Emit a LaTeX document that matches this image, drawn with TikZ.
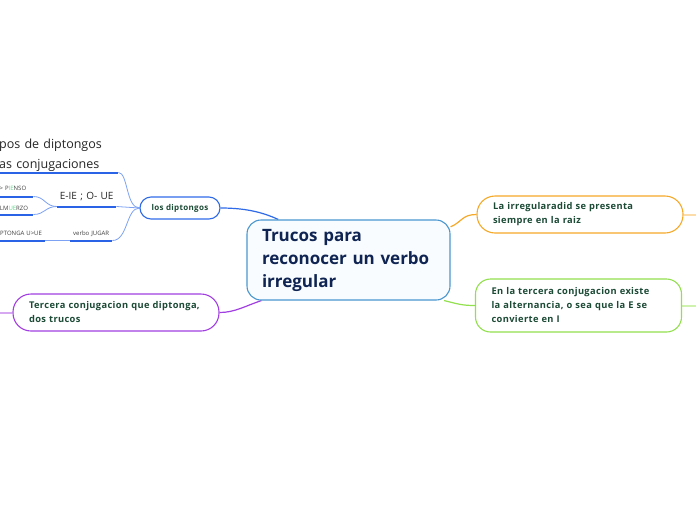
\documentclass[tikz,border=0pt]{standalone}
\usepackage{fontspec}
\setmainfont{Open Sans}
\newfontfamily\subfont[LetterSpace=4]{Open Sans}
\usetikzlibrary{backgrounds}
\definecolor{navy}{HTML}{0F2452}
\definecolor{leafink}{HTML}{1B4A35}
\definecolor{hubblue}{HTML}{2F6BE8}
\definecolor{twigblue}{HTML}{7DA2F4}
\definecolor{lineblue}{HTML}{2A63E6}
\definecolor{mainblue}{HTML}{4A97D0}
\definecolor{mainfill}{HTML}{F8FCFE}
\definecolor{orng}{HTML}{F6A928}
\definecolor{orngpale}{HTML}{FCDCA8}
\definecolor{lime}{HTML}{93E04F}
\definecolor{limepale}{HTML}{CFF2AE}
\definecolor{purp}{HTML}{A23FE2}
\definecolor{purppale}{HTML}{D7A8F2}
\definecolor{mint}{HTML}{5EDC8C}

\begin{document}
\begin{tikzpicture}[x=1pt, y=-1pt,
  main/.style={draw=mainblue, fill=mainfill, line width=1.1pt, rounded corners=14pt,
    text=navy, font=\bfseries\fontsize{17}{23}\selectfont, align=left,
    inner xsep=15pt, minimum height=80pt, text width=173pt},
  sub/.style={fill=white, line width=1.1pt, text=leafink,
    font=\subfont\bfseries\fontsize{9.3}{14}\selectfont, align=left, inner xsep=16pt, text width=174pt},
  leaf/.style={anchor=south west, inner xsep=0pt, inner ysep=0pt, text=black!85},
  uline/.style={draw=lineblue, line width=2pt},
  twig/.style={draw=twigblue, line width=0.8pt},
  link/.style={line width=1.2pt}]
  \useasboundingbox (0,0) rectangle (696,520);
  \clip (0,0) rectangle (696,520);

  % tema central y ramas
  \node[main] (centre) at (348.5,260) {Trucos para\\ reconocer un verbo\\ irregular};
  \node[draw=hubblue, fill=white, line width=1.1pt, rounded corners=11pt, text=leafink,
    font=\subfont\bfseries\fontsize{8}{10}\selectfont, minimum width=80pt, minimum height=22pt,
    inner sep=0pt] (diptongos) at (180,208) {los diptongos};
  \node[sub, draw=orng, rounded corners=18pt, minimum height=37pt] (raiz) at (580,214.5)
    {La irregularadid se presenta\\ siempre en la raiz};
  \node[sub, draw=lime, rounded corners=15pt, minimum height=53pt] (alterna) at (578.5,305.5)
    {En la tercera conjugacion existe\\ la alternancia, o sea que la E se\\ convierte en I};
  \node[sub, draw=purp, rounded corners=18pt, minimum height=37pt] (trucos) at (116,312.5)
    {Tercera conjugacion que diptonga,\\ dos trucos};

  % hojas de los diptongos
  \node[leaf, text width=119pt, align=left, text depth=23.5pt,
    font=\fontsize{12.5}{20}\selectfont] (tipos) at (-1,172.5) {pos de diptongos\\ as conjugaciones};
  \node[leaf, text width=59pt, align=center, text depth=6.5pt,
    font=\fontsize{10}{12}\selectfont] (eie) at (57,206.5) {E-IE ; O- UE};
  \node[leaf, text width=37pt, align=left, text depth=5.5pt, text=black!75,
    font=\fontsize{6}{7}\selectfont] (pienso) at (-4,196.5) {=> P{\color{mint}IE}NSO};
  \node[leaf, text width=37pt, align=left, text depth=4pt, text=black!75,
    font=\fontsize{6}{7}\selectfont] (almuerzo) at (-4,214.5) {ALM{\color{mint}UE}RZO};
  \node[leaf, text width=42pt, align=center, text depth=4.5pt, text=black!75,
    font=\fontsize{6}{7}\selectfont] (jugar) at (70,240.5) {verbo JUGAR};
  \node[leaf, text width=51pt, align=left, text depth=4.5pt, text=black!75,
    font=\fontsize{6}{7}\selectfont] (uue) at (-6,240.5) {DIPTONGA U>UE};
  \foreach \n in {tipos, eie, pienso, almuerzo, jugar, uue}
    \draw[uline] (\n.south west) -- (\n.south east);

  \coordinate (raizend) at (696,214.5);
  \coordinate (alternaend) at (696,305.5);
  \coordinate (trucosend) at (0,312.5);

  \begin{pgfonlayer}{background}
    \fill[white] (0,0) rectangle (696,520);
    \draw[link, hubblue] (centre.150) .. controls (262,212) and (245,208) .. (diptongos.east);
    \draw[link, orng] (centre.18) .. controls (462,222) and (462,214.5) .. (raiz.west);
    \draw[link, lime] (centre.-23.6) .. controls (458,304) and (462,305.5) .. (alterna.west);
    \draw[link, purp] (centre.205) .. controls (245,306) and (235,312.5) .. (trucos.east);
    \draw[line width=2pt, orngpale] (raiz.east) -- (raizend);
    \draw[line width=2pt, limepale] (alterna.east) -- (alternaend);
    \draw[line width=2pt, purppale] (trucos.west) -- (trucosend);

    \draw[twig] (diptongos.west) .. controls (126,208) and (128,172.5) .. (tipos.south east);
    \draw[twig] (diptongos.west) .. controls (128,208) and (128,206.5) .. (eie.south east);
    \draw[twig] (diptongos.west) .. controls (126,208) and (128,240.5) .. (jugar.south east);
    \draw[twig] (eie.south west) .. controls (45,206.5) and (45,196.5) .. (pienso.south east);
    \draw[twig] (eie.south west) .. controls (45,206.5) and (45,214.5) .. (almuerzo.south east);
    \draw[twig] (jugar.south west) -- (uue.south east);
  \end{pgfonlayer}
\end{tikzpicture}
\end{document}
